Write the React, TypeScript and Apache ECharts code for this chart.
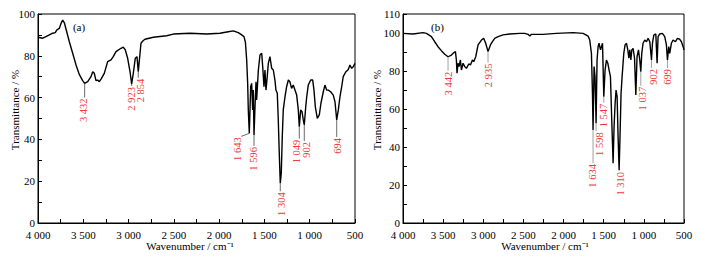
import React, { useEffect, useRef } from "react";
import * as echarts from "echarts";

const FONT = '"Liberation Serif", "Times New Roman", serif';
const RED = "#f03a3a";

// Panel (a) spectrum
const waveA = [4000, 3948, 3912, 3875, 3838, 3809, 3794, 3765, 3746, 3727, 3709, 3683, 3654, 3617, 3580, 3544, 3507, 3485, 3451, 3415, 3396, 3378, 3360, 3341, 3323, 3304, 3268, 3231, 3194, 3169, 3139, 3084, 3058, 3036, 3010, 2984, 2966, 2948, 2926, 2907, 2893, 2877, 2863, 2840, 2819, 2727, 2579, 2506, 2322, 2138, 1991, 1899, 1844, 1789, 1751, 1726, 1710, 1696, 1685, 1678, 1667, 1652, 1641, 1630, 1623, 1615, 1604, 1593, 1586, 1567, 1549, 1530, 1519, 1505, 1494, 1483, 1469, 1457, 1439, 1420, 1402, 1384, 1373, 1358, 1347, 1336, 1325, 1314, 1303, 1292, 1273, 1255, 1236, 1219, 1200, 1182, 1163, 1144, 1126, 1115, 1100, 1085, 1071, 1060, 1044, 1033, 1016, 989, 967, 953, 938, 916, 894, 876, 850, 832, 813, 795, 769, 740, 721, 702, 684, 666, 647, 630, 600, 574, 556, 537, 519, 500];
const transA = [88.9, 88.4, 89.2, 90.0, 90.8, 91.1, 92.3, 93.1, 95.5, 97.1, 95.8, 91.5, 86.7, 81.2, 75.6, 71.1, 68.1, 66.8, 67.6, 70.0, 72.4, 71.6, 68.1, 68.4, 67.6, 68.8, 71.6, 77.2, 78.0, 79.6, 82.0, 83.6, 84.1, 82.8, 78.8, 72.4, 66.5, 71.6, 78.8, 79.6, 72.4, 79.6, 86.0, 87.2, 87.9, 88.9, 89.6, 90.4, 90.8, 90.4, 90.8, 91.5, 91.9, 91.1, 90.0, 89.2, 86.5, 78.0, 66.8, 54.1, 42.9, 65.2, 66.8, 54.1, 63.6, 42.1, 55.6, 67.6, 58.9, 73.2, 80.4, 81.2, 74.8, 65.2, 73.2, 63.6, 70.0, 76.4, 79.6, 74.0, 73.2, 68.4, 63.6, 62.1, 49.3, 33.3, 19.0, 23.8, 41.3, 54.1, 60.4, 65.2, 68.4, 67.6, 64.4, 66.0, 63.6, 61.2, 54.1, 46.1, 54.1, 53.3, 49.3, 46.9, 55.6, 60.4, 66.0, 68.4, 68.4, 63.6, 55.6, 50.1, 51.7, 57.3, 62.8, 66.0, 63.6, 63.6, 62.8, 61.2, 58.0, 49.3, 54.1, 60.4, 65.2, 70.0, 72.4, 73.5, 75.6, 74.0, 74.8, 76.4];

// Panel (b) spectrum
const waveB = [4000, 3875, 3751, 3708, 3646, 3605, 3564, 3522, 3480, 3439, 3397, 3368, 3347, 3335, 3327, 3315, 3302, 3285, 3272, 3252, 3231, 3210, 3181, 3160, 3135, 3119, 3094, 3065, 3023, 2995, 2970, 2941, 2911, 2886, 2858, 2816, 2754, 2671, 2546, 2484, 2443, 2420, 2400, 2256, 2090, 1882, 1757, 1695, 1674, 1653, 1640, 1633, 1620, 1608, 1595, 1583, 1570, 1558, 1540, 1528, 1515, 1499, 1483, 1466, 1449, 1433, 1416, 1400, 1383, 1371, 1358, 1346, 1333, 1321, 1308, 1296, 1284, 1271, 1250, 1234, 1216, 1200, 1187, 1175, 1162, 1150, 1134, 1116, 1100, 1085, 1067, 1051, 1038, 1026, 1010, 989, 967, 947, 926, 905, 893, 876, 851, 835, 823, 802, 769, 740, 719, 706, 690, 678, 657, 636, 607, 582, 553, 532, 511, 500];
const transB = [99.8, 99.5, 100.2, 99.8, 98.1, 95.4, 92.8, 90.7, 88.8, 87.5, 88.4, 89.6, 90.2, 85.8, 78.8, 84.1, 82.3, 85.8, 80.5, 84.1, 82.3, 81.4, 83.7, 83.2, 85.8, 84.9, 87.5, 93.7, 96.3, 97.2, 94.6, 90.2, 93.7, 95.4, 97.2, 98.1, 99.0, 99.5, 99.8, 99.8, 99.3, 98.4, 99.3, 99.3, 99.8, 100.2, 99.8, 98.4, 96.3, 89.3, 68.3, 48.9, 82.3, 77.0, 52.5, 85.8, 92.8, 94.6, 91.1, 92.8, 94.6, 66.5, 80.5, 85.8, 84.1, 80.5, 77.0, 54.2, 31.4, 50.7, 63.0, 70.0, 66.5, 45.4, 27.9, 47.2, 68.3, 77.0, 89.3, 93.7, 94.6, 91.1, 86.7, 91.1, 85.8, 91.1, 91.9, 86.7, 67.4, 87.5, 91.1, 85.8, 79.6, 89.3, 94.6, 96.3, 95.4, 97.2, 95.4, 85.8, 94.6, 98.9, 99.5, 84.1, 98.1, 99.5, 99.8, 98.1, 93.7, 85.8, 92.8, 89.3, 94.6, 96.3, 95.4, 97.2, 96.7, 95.4, 92.8, 91.1];

// Peak annotations
const peakLabelA = ["3 432", "2 923", "2 854", "1 643", "1 596", "1 304", "1 049", "902", "694"];
const peakWaveA = [3485, 2966, 2893, 1667, 1615, 1325, 1115, 1060, 702];
const peakTransA = [66.8, 66.5, 72.4, 42.9, 42.1, 19.0, 46.1, 46.9, 49.3];

const peakLabelB = ["3 442", "2 935", "1 634", "1 598", "1 547", "1 310", "1 037", "902", "699"];
const peakWaveB = [3439, 2941, 1633, 1595, 1499, 1308, 1038, 905, 706];
const peakTransB = [87.5, 90.2, 48.9, 52.5, 66.5, 27.9, 79.6, 85.8, 85.8];

// Leader layout: [length px, line dx px, text dx px]
const leaderA = [[14, 0, -1], [2, 0, -0.5], [6, 0, 2.5], [3, -8, -4], [11, 0, -1], [8, 0, 1], [12, 0, -3], [16, 0, 2], [17, 0, 1]];
const leaderB = [[14, 0, 0], [11, 0, 0], [33, 0, -0.5], [8, 0, 3.5], [6, 0, 0], [1, 0, 1], [14, 0, 1.5], [8, 0, 2], [8, 0, 0.5]];

const fmtWave = (v: number) => {
  if (v % 500 !== 0) return "";
  if (v >= 1000) {
    const s = String(v);
    return s.slice(0, s.length - 3) + " " + s.slice(s.length - 3);
  }
  return String(v);
};

const makeX = (gridIndex: number) => ({
  type: "value",
  gridIndex,
  min: 500,
  max: 4000,
  interval: 250,
  inverse: true,
  axisLine: { show: true, lineStyle: { color: "#000", width: 1 } },
  axisTick: { show: true, inside: true, length: 4, lineStyle: { color: "#000", width: 1 } },
  axisLabel: {
    formatter: fmtWave,
    color: "#000",
    fontFamily: FONT,
    fontSize: 11,
    margin: 6,
    showMinLabel: true,
    showMaxLabel: true,
  },
  splitLine: { show: false },
});

const makeY = (gridIndex: number, max: number) => ({
  type: "value",
  gridIndex,
  min: 0,
  max,
  interval: 10,
  axisLine: { show: true, lineStyle: { color: "#000", width: 1 } },
  axisTick: { show: true, inside: true, length: 4, lineStyle: { color: "#000", width: 1 } },
  axisLabel: {
    formatter: (v: number) => (v % 20 === 0 || v === 110 ? String(v) : ""),
    color: "#000",
    fontFamily: FONT,
    fontSize: 11,
    margin: 3,
    showMinLabel: true,
    showMaxLabel: true,
  },
  splitLine: { show: false },
});

const makeRender = (labels: string[], leaders: number[][], lineColor: string) =>
  (params: any, api: any) => {
    const i = api.value(2);
    const p = api.coord([api.value(0), api.value(1)]);
    const [len, dxl, dxt] = leaders[i];
    const x2 = p[0] + dxl;
    const y2 = p[1] + len;
    return {
      type: "group",
      children: [
        {
          type: "line",
          shape: { x1: p[0], y1: p[1], x2, y2 },
          style: { stroke: lineColor, lineWidth: 0.8 },
        },
        {
          type: "text",
          x: x2 + dxt,
          y: y2 + 1,
          rotation: Math.PI / 2,
          style: {
            text: labels[i],
            fill: RED,
            font: `10.5px ${FONT}`,
            align: "right",
            verticalAlign: "middle",
          },
        },
      ],
    };
  };

export default function App() {
  const ref = useRef<HTMLDivElement>(null);
  useEffect(() => {
    if (!ref.current) return;
    const chart = echarts.init(ref.current, null, { renderer: "svg" });
    const option: any = {
      animation: false,
      backgroundColor: "#fff",
      grid: [
        { left: 38, top: 14, width: 317, height: 209, show: true, borderColor: "#000", borderWidth: 1 },
        { left: 403, top: 14, width: 281, height: 209, show: true, borderColor: "#000", borderWidth: 1 },
      ],
      xAxis: [makeX(0), makeX(1)],
      yAxis: [makeY(0, 100), makeY(1, 110)],
      series: [
        {
          type: "line",
          xAxisIndex: 0,
          yAxisIndex: 0,
          data: waveA.map((w, i) => [w, transA[i]]),
          showSymbol: false,
          lineStyle: { color: "#000", width: 1.4 },
          silent: true,
        },
        {
          type: "line",
          xAxisIndex: 1,
          yAxisIndex: 1,
          data: waveB.map((w, i) => [w, transB[i]]),
          showSymbol: false,
          lineStyle: { color: "#000", width: 1.4 },
          silent: true,
        },
        {
          type: "custom",
          xAxisIndex: 0,
          yAxisIndex: 0,
          clip: false,
          silent: true,
          z: 5,
          data: peakWaveA.map((w, i) => [w, peakTransA[i], i]),
          renderItem: makeRender(peakLabelA, leaderA, "#444"),
        },
        {
          type: "custom",
          xAxisIndex: 1,
          yAxisIndex: 1,
          clip: false,
          silent: true,
          z: 5,
          data: peakWaveB.map((w, i) => [w, peakTransB[i], i]),
          renderItem: makeRender(peakLabelB, leaderB, "#888"),
        },
      ],
      graphic: [
        { type: "text", x: 79, y: 26.5, style: { text: "(a)", font: `11px ${FONT}`, fill: "#000", align: "center", verticalAlign: "middle" } },
        { type: "text", x: 437.5, y: 26.5, style: { text: "(b)", font: `11px ${FONT}`, fill: "#000", align: "center", verticalAlign: "middle" } },
        { type: "text", x: 15, y: 110, rotation: Math.PI / 2, style: { text: "Transmittance / %", font: `11px ${FONT}`, fill: "#000", align: "center", verticalAlign: "middle" } },
        { type: "text", x: 376.5, y: 110, rotation: Math.PI / 2, style: { text: "Transmittance / %", font: `11px ${FONT}`, fill: "#000", align: "center", verticalAlign: "middle" } },
        { type: "text", x: 190, y: 246, style: { text: "Wavenumber / cm\u207B\u00B9", font: `11px ${FONT}`, fill: "#000", align: "center", verticalAlign: "middle" } },
        { type: "text", x: 545, y: 246, style: { text: "Wavenumber / cm\u207B\u00B9", font: `11px ${FONT}`, fill: "#000", align: "center", verticalAlign: "middle" } },
      ],
    };
    chart.setOption(option);
    return () => chart.dispose();
  }, []);
  return <div ref={ref} style={{ position: "absolute", left: 0, top: 0, width: 707, height: 257 }} />;
}
